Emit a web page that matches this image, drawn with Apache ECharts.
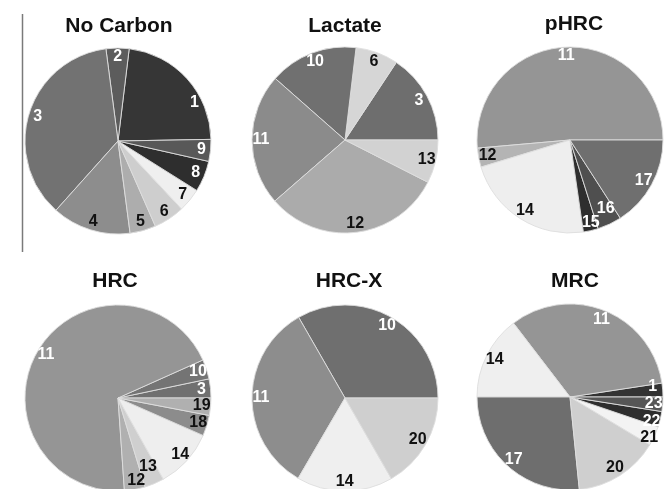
<!DOCTYPE html>
<html><head><meta charset="utf-8">
<script src="https://cdn.jsdelivr.net/npm/echarts@6/dist/echarts.min.js"></script>
<style>html,body{margin:0;padding:0;background:#fff}#c{width:664px;height:489px}</style>
</head><body><div id="c"></div>
<script>
// ---- data ----
const titles = ['No Carbon', 'Lactate', 'pHRC', 'HRC', 'HRC-X', 'MRC'];

const noCarbonLabels = ['1','2','3','4','5','6','7','8','9'];
const noCarbonValues = [22.8, 4.0, 36.3, 13.7, 4.5, 5.4, 4.1, 5.4, 3.8];

const lactateLabels = ['3','6','10','11','12','13'];
const lactateValues = [15.7, 7.4, 15.4, 22.9, 31.1, 7.5];

const phrcLabels = ['11','12','14','15','16','17'];
const phrcValues = [51.4, 3.3, 22.6, 2.6, 4.2, 15.9];

const hrcLabels = ['3','10','11','12','13','14','18','19'];
const hrcValues = [3.3, 3.4, 69.4, 3.6, 3.4, 10.3, 3.6, 3.0];

const hrcxLabels = ['10','11','14','20'];
const hrcxValues = [33.3, 33.3, 16.7, 16.7];

const mrcLabels = ['1','11','14','17','20','21','22','23'];
const mrcValues = [2.4, 33.0, 14.6, 26.6, 14.8, 3.4, 2.7, 2.5];

// ---- styles (fill, label colour, label nudges) ----
const fills = [
  ['#363636','#5c5c5c','#727272','#8d8d8d','#adadad','#cecece','#efefef','#2e2e2e','#585858'],
  ['#6e6e6e','#d6d6d6','#707070','#8b8b8b','#ababab','#d2d2d2'],
  ['#959595','#b4b4b4','#eeeeee','#2e2e2e','#4f4f4f','#6f6f6f'],
  ['#707070','#747474','#959595','#b0b0b0','#cfcfcf','#eeeeee','#8c8c8c','#b0b0b0'],
  ['#6f6f6f','#8d8d8d','#efefef','#cfcfcf'],
  ['#333333','#959595','#efefef','#6e6e6e','#cfcfcf','#f3f3f3','#2e2e2e','#565656']
];
const W = '#ffffff', B = '#111111';
const labelColors = [
  [W,W,W,B,B,B,B,W,W],
  [W,B,W,W,B,B],
  [W,B,B,W,W,W],
  [W,W,W,B,B,B,B,B],
  [W,W,B,B],
  [W,W,B,W,B,B,W,W]
];
const labelNudges = [
  {0: [14, 18]},
  {},
  {4: [0, -7], 3: [2, 1]},
  {4: [-3, -9], 3: [3, 0]},
  {},
  {0: [-1, -4], 6: [0, 4], 5: [3, 5]}
];
const startAngles = [1, 0, 0, 0, 0, 0];
const centers = [[118,141],[345,140],[570,140],[118,398],[345,398],[570,397]];
const titlePos = [[119,16],[345,16],[574,14],[115,271],[349,271],[575,271]];
const R = 93;

const groups = [
  [noCarbonLabels, noCarbonValues],
  [lactateLabels, lactateValues],
  [phrcLabels, phrcValues],
  [hrcLabels, hrcValues],
  [hrcxLabels, hrcxValues],
  [mrcLabels, mrcValues]
];

const series = [];
groups.forEach(([labels, values], gi) => {
  const data = labels.map((n, i) => ({name: n, value: values[i]}));
  series.push({
    type: 'pie', center: centers[gi], radius: [0, R],
    startAngle: startAngles[gi], clockwise: false,
    silent: true, animation: false,
    label: {show: false}, labelLine: {show: false},
    itemStyle: {
      color: p => fills[gi][p.dataIndex],
      borderColor: 'rgba(222,222,222,0.9)', borderWidth: 1
    },
    data
  });
  // transparent ring that carries the labels near the rim
  series.push({
    type: 'pie', center: centers[gi], radius: [69, R],
    startAngle: startAngles[gi], clockwise: false,
    silent: true, animation: false,
    avoidLabelOverlap: false,
    labelLayout: {hideOverlap: false},
    itemStyle: {color: 'rgba(0,0,0,0)', borderWidth: 0},
    labelLine: {show: false},
    label: {
      show: true, position: 'inside', formatter: '{b}',
      fontFamily: 'Liberation Sans, Arial, sans-serif', fontWeight: 'bold', fontSize: 16
    },
    data: labels.map((n, i) => ({
      name: n, value: values[i],
      label: Object.assign({color: labelColors[gi][i]},
        labelNudges[gi][i] ? {offset: labelNudges[gi][i]} : {})
    }))
  });
});

const chart = echarts.init(document.getElementById('c'), null, {renderer: 'canvas'});
chart.setOption({
  backgroundColor: '#ffffff',
  animation: false,
  title: titles.map((t, i) => ({
    text: t, left: titlePos[i][0], top: titlePos[i][1], textAlign: 'center', padding: 0,
    textStyle: {fontFamily: 'Liberation Sans, Arial, sans-serif', fontWeight: 'bold', fontSize: 21, color: '#111'}
  })),
  graphic: [{
    type: 'line', silent: true,
    shape: {x1: 22.5, y1: 14, x2: 22.5, y2: 252},
    style: {stroke: '#7a7a7a', lineWidth: 1.5}
  }],
  series
});
</script></body></html>
